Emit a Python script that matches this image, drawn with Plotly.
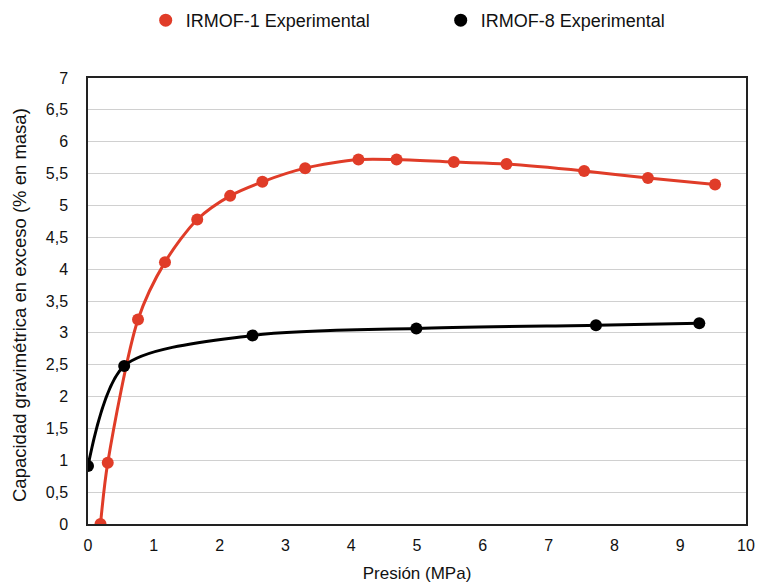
import plotly.graph_objects as go

irmof1_x = [0.19, 0.30, 0.76, 1.17, 1.66, 2.16, 2.65, 3.30, 4.11, 4.69, 5.56, 6.36, 7.54, 8.51, 9.53]
irmof1_y = [0.0, 0.96, 3.21, 4.11, 4.78, 5.15, 5.37, 5.585, 5.72, 5.72, 5.68, 5.65, 5.54, 5.43, 5.33]

irmof8_x = [0.0, 0.55, 2.50, 4.99, 7.72, 9.29]
irmof8_y = [0.91, 2.48, 2.96, 3.07, 3.12, 3.15]

series_names = ["IRMOF-1 Experimental", "IRMOF-8 Experimental"]
series_colors = ["#E03C28", "black"]

x_ticks = list(range(0, 11))
y_ticks = [i * 0.5 for i in range(15)]
y_ticktext = [("%g" % v).replace(".", ",") for v in y_ticks]

y_title = "Capacidad gravimétrica en exceso (% en masa)"
x_title = "Presión (MPa)"

font = "Liberation Sans, Arial, sans-serif"

fig = go.Figure()
for xs, ys, name, col in [(irmof1_x, irmof1_y, series_names[0], series_colors[0]),
                          (irmof8_x, irmof8_y, series_names[1], series_colors[1])]:
    fig.add_trace(go.Scatter(
        x=xs, y=ys, name=name, showlegend=False,
        mode="lines+markers", line=dict(color=col, width=3, shape="spline", smoothing=0.8),
        marker=dict(color=col, size=12),
    ))
# legend entries (marker only)
for name, col in zip(series_names, series_colors):
    fig.add_trace(go.Scatter(
        x=[None], y=[None], name=name, mode="markers",
        marker=dict(color=col, size=13), showlegend=True,
    ))

fig.update_layout(
    width=759, height=585,
    margin=dict(l=88, r=13, t=78, b=61, autoexpand=False),
    paper_bgcolor="white", plot_bgcolor="white",
    font=dict(family=font, size=16, color="#111"),
    showlegend=True,
    legend=dict(orientation="h", x=0.536, xanchor="center", y=0.965, yanchor="middle",
                yref="container", font=dict(size=18),
                entrywidth=250, entrywidthmode="pixels"),
    xaxis=dict(range=[0, 10], tickvals=x_ticks, showgrid=False, zeroline=False,
               showline=True, linecolor="#222", linewidth=1.5, mirror=True,
               ticks="", ticklen=0, tickfont=dict(size=16), ticklabelstandoff=6,
               title=dict(text=x_title, font=dict(size=17), standoff=14)),
    yaxis=dict(range=[0, 7], tickvals=y_ticks, ticktext=y_ticktext,
               showgrid=True, gridcolor="#D0D0D0", gridwidth=1.2, zeroline=False,
               showline=True, linecolor="#222", linewidth=1.5, mirror=True,
               ticks="", tickfont=dict(size=16), ticklabelstandoff=15),
    annotations=[dict(text=y_title, textangle=-90, showarrow=False,
                      xref="paper", yref="paper", x=(19 - 88) / 658, y=(524 - 305) / 446,
                      xanchor="center", yanchor="middle", font=dict(size=18.5))],
)

fig.write_html("out.html")
